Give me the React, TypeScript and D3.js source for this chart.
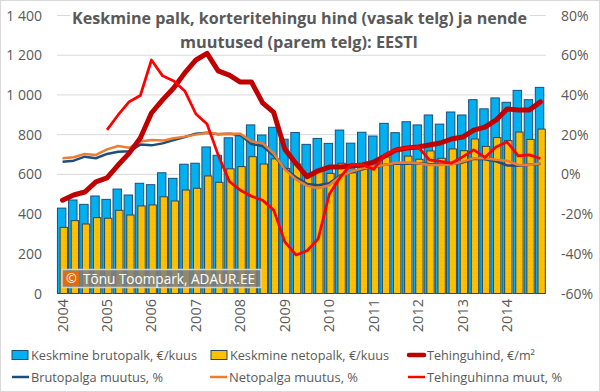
import * as d3 from "d3";

const categories = [
  "2004 Q1", "2004 Q2", "2004 Q3", "2004 Q4",
  "2005 Q1", "2005 Q2", "2005 Q3", "2005 Q4",
  "2006 Q1", "2006 Q2", "2006 Q3", "2006 Q4",
  "2007 Q1", "2007 Q2", "2007 Q3", "2007 Q4",
  "2008 Q1", "2008 Q2", "2008 Q3", "2008 Q4",
  "2009 Q1", "2009 Q2", "2009 Q3", "2009 Q4",
  "2010 Q1", "2010 Q2", "2010 Q3", "2010 Q4",
  "2011 Q1", "2011 Q2", "2011 Q3", "2011 Q4",
  "2012 Q1", "2012 Q2", "2012 Q3", "2012 Q4",
  "2013 Q1", "2013 Q2", "2013 Q3", "2013 Q4",
  "2014 Q1", "2014 Q2", "2014 Q3", "2014 Q4",
];

const yearLabels = ["2004", "2005", "2006", "2007", "2008", "2009", "2010", "2011", "2012", "2013", "2014"];

// €/kuus
const grossWage = [430, 471, 449, 491, 474, 526, 496, 555, 548, 608, 580, 651, 656, 738, 696, 784, 794, 849, 798, 837, 777, 811, 751, 781, 756, 823, 757, 812, 793, 857, 810, 865, 849, 899, 853, 914, 899, 976, 930, 985, 963, 1023, 976, 1038];
const netWage = [333, 367, 350, 382, 379, 419, 395, 441, 446, 487, 466, 521, 530, 592, 560, 628, 639, 689, 652, 678, 630, 652, 603, 622, 605, 656, 608, 652, 638, 688, 650, 692, 676, 718, 681, 728, 719, 778, 741, 785, 770, 813, 776, 828];
// €/m²
const dealPrice = [470, 496, 511, 562, 582, 647, 707, 783, 909, 975, 1035, 1111, 1176, 1209, 1121, 1100, 1065, 1065, 960, 912, 727, 655, 588, 618, 637, 637, 642, 647, 662, 692, 723, 733, 738, 748, 758, 778, 788, 823, 838, 873, 929, 924, 924, 965];
// % muutus
const grossChange = [6.4, 6.9, 8.9, 8.1, 10.3, 11.4, 11.6, 15.0, 14.6, 15.6, 17.3, 18.8, 20.5, 21.0, 20.2, 20.4, 19.8, 15.3, 14.3, 9.5, 3.0, -1.5, -4.8, -5.5, -4.5, -0.5, 1.0, 2.5, 4.0, 4.8, 5.5, 5.4, 5.6, 5.2, 5.0, 5.2, 6.0, 7.8, 7.6, 6.6, 4.5, 4.3, 4.8, 5.3];
const netChange = [8.1, 8.6, 10.3, 9.8, 12.6, 14.3, 13.4, 16.5, 17.3, 17.0, 18.2, 19.0, 20.0, 21.0, 20.3, 20.5, 20.5, 16.5, 15.7, 10.5, 2.5, -2.5, -5.8, -7.0, -5.5, -1.0, 1.4, 3.1, 4.0, 4.7, 5.8, 6.0, 5.6, 4.7, 4.7, 5.0, 6.4, 8.1, 8.1, 7.3, 6.9, 4.7, 4.7, 5.6];
const priceChange = [null, null, null, null, 22.4, 29.9, 36.6, 39.7, 57.6, 49.6, 47, 42, 30.4, 25.4, 9.8, -3.5, -8, -11, -13, -18, -34, -40.6, -38.5, -32.5, -10, -1.3, 5.2, 4.8, 2.5, 10, 12.5, 13.3, 13.8, 7.3, 6.5, 5.7, 8.8, 12.3, 8.5, 13.8, 16.3, 9.3, 9.8, 8];

const leftTicks = [0, 200, 400, 600, 800, 1000, 1200, 1400];
const rightTicks = [-60, -40, -20, 0, 20, 40, 60, 80];

const W = 600;
const H = 392;
const font = "'Open Sans', 'Noto Sans', sans-serif";
const textColor = "#595959";

export default function App() {
  const x = d3.scaleBand<string>().domain(categories).range([57, 546]).padding(0);
  const yL = d3.scaleLinear().domain([0, 1400]).range([293.5, 15.5]);
  const yR = d3.scaleLinear().domain([-60, 80]).range([293.5, 15.5]);
  const bw = x.bandwidth();
  const cx = (i: number) => x(categories[i])! + bw / 2;

  const lineL = d3
    .line<number>()
    .x((_, i) => cx(i))
    .y((d) => yL(d));
  const lineR = d3
    .line<number | null>()
    .defined((d) => d != null)
    .x((_, i) => cx(i))
    .y((d) => yR(d as number));

  const fmtL = (v: number) => (v >= 1000 ? `${Math.floor(v / 1000)} ${String(v % 1000).padStart(3, "0")}` : `${v}`);

  const legendRow1 = 355;
  const legendRow2 = 377;

  return (
    <svg width={W} height={H} style={{ position: "absolute", left: 0, top: 0, fontFamily: font }}>
      <defs>
        <pattern id="dots" width="4" height="4" patternUnits="userSpaceOnUse">
          <rect width="4" height="4" fill="#FFC000" />
          <circle cx="1" cy="1" r="0.5" fill="#E0A000" />
        </pattern>
      </defs>
      <rect x={0.5} y={0.5} width={W - 1} height={H - 1} fill="#fff" stroke="#D9D9D9" />

      {/* grid */}
      {leftTicks.map((t) => (
        <line key={t} x1={57} x2={546} y1={yL(t)} y2={yL(t)} stroke="#D9D9D9" strokeWidth={1} />
      ))}

      {/* left axis labels */}
      {leftTicks.map((t) => (
        <text key={t} x={42} y={yL(t) + 5} textAnchor="end" fontSize={14} fill={textColor}>
          {fmtL(t)}
        </text>
      ))}
      {/* right axis labels */}
      {rightTicks.map((t) => (
        <text key={t} x={561} y={yR(t) + 5} textAnchor="start" fontSize={14} fill={textColor}>
          {`${t}%`}
        </text>
      ))}

      {/* bars */}
      {grossWage.map((v, i) => (
        <rect
          key={"g" + i}
          x={x(categories[i])! + bw * 0.04}
          y={yL(v)}
          width={bw * 0.76}
          height={yL(0) - yL(v)}
          fill="#00B0F0"
          stroke="#1F4E79"
          strokeWidth={1}
        />
      ))}
      {netWage.map((v, i) => (
        <rect
          key={"n" + i}
          x={x(categories[i])! + bw * 0.28}
          y={yL(v)}
          width={bw * 0.66}
          height={yL(0) - yL(v)}
          fill="url(#dots)"
          stroke="#30475A"
          strokeWidth={1}
        />
      ))}

      {/* lines */}
      <path d={lineR(grossChange)!} fill="none" stroke="#1F4E79" strokeWidth={2.5} strokeLinejoin="round" />
      <path d={lineR(netChange)!} fill="none" stroke="#ED7D31" strokeWidth={2.5} strokeLinejoin="round" />
      <path d={lineL(dealPrice)!} fill="none" stroke="#C00000" strokeWidth={5} strokeLinejoin="round" strokeLinecap="round" />
      <path d={lineR(priceChange)!} fill="none" stroke="#FF0000" strokeWidth={2.75} strokeLinejoin="round" />

      {/* year labels */}
      {yearLabels.map((yr) => {
        const i = categories.indexOf(`${yr} Q1`);
        return (
          <text
            key={yr}
            transform={`translate(${cx(i) + 5},299) rotate(-90)`}
            textAnchor="end"
            fontSize={14.5}
            fill={textColor}
          >
            {yr}
          </text>
        );
      })}

      {/* title */}
      <rect x={70} y={9} width={460} height={20} fill="#fff" />
      <text x={72} y={24} fontSize={16} fontWeight="bold" fill={textColor} textLength={455} lengthAdjust="spacingAndGlyphs">
        Keskmine palk, korteritehingu hind (vasak telg) ja nende
      </text>
      <text x={180} y={48} fontSize={16} fontWeight="bold" fill={textColor} textLength={238} lengthAdjust="spacingAndGlyphs">
        muutused (parem telg): EESTI
      </text>

      {/* watermark */}
      <rect x={62} y={269.5} width={199} height={18} fill="#7F7F7F" fillOpacity={0.85} stroke="#D0D0D0" strokeWidth={1.5} />
      <rect x={64} y={271} width={15} height={15} fill="#E26B0A" />
      <text x={71.5} y={283} textAnchor="middle" fontSize={13} fill="#fff">©</text>
      <text x={83} y={283.5} fontSize={14} fill="#fff" textLength={172} lengthAdjust="spacingAndGlyphs">
        Tõnu Toompark, ADAUR.EE
      </text>

      {/* legend */}
      <rect x={12} y={legendRow1 - 4.5} width={16} height={9} fill="#00B0F0" stroke="#1F4E79" />
      <text x={31} y={legendRow1 + 4.5} fontSize={13} fill={textColor} textLength={166} lengthAdjust="spacingAndGlyphs">
        Keskmine brutopalk, €/kuus
      </text>
      <rect x={211} y={legendRow1 - 4.5} width={16} height={9} fill="#FFC000" stroke="#30475A" />
      <text x={230} y={legendRow1 + 4.5} fontSize={13} fill={textColor} textLength={159} lengthAdjust="spacingAndGlyphs">
        Keskmine netopalk, €/kuus
      </text>
      <line x1={409} x2={424} y1={legendRow1} y2={legendRow1} stroke="#C00000" strokeWidth={4.5} strokeLinecap="round" />
      <text x={427} y={legendRow1 + 4.5} fontSize={13} fill={textColor} textLength={108} lengthAdjust="spacingAndGlyphs">
        Tehinguhind, €/m²
      </text>

      <line x1={12} x2={29} y1={legendRow2} y2={legendRow2} stroke="#1F4E79" strokeWidth={2.5} />
      <text x={31} y={legendRow2 + 4.5} fontSize={13} fill={textColor} textLength={132} lengthAdjust="spacingAndGlyphs">
        Brutopalga muutus, %
      </text>
      <line x1={210} x2={227} y1={legendRow2} y2={legendRow2} stroke="#ED7D31" strokeWidth={2.5} />
      <text x={229} y={legendRow2 + 4.5} fontSize={13} fill={textColor} textLength={129} lengthAdjust="spacingAndGlyphs">
        Netopalga muutus, %
      </text>
      <line x1={408} x2={425} y1={legendRow2} y2={legendRow2} stroke="#FF0000" strokeWidth={2.5} />
      <text x={427} y={legendRow2 + 4.5} fontSize={13} fill={textColor} textLength={135} lengthAdjust="spacingAndGlyphs">
        Tehinguhinna muut, %
      </text>
    </svg>
  );
}
